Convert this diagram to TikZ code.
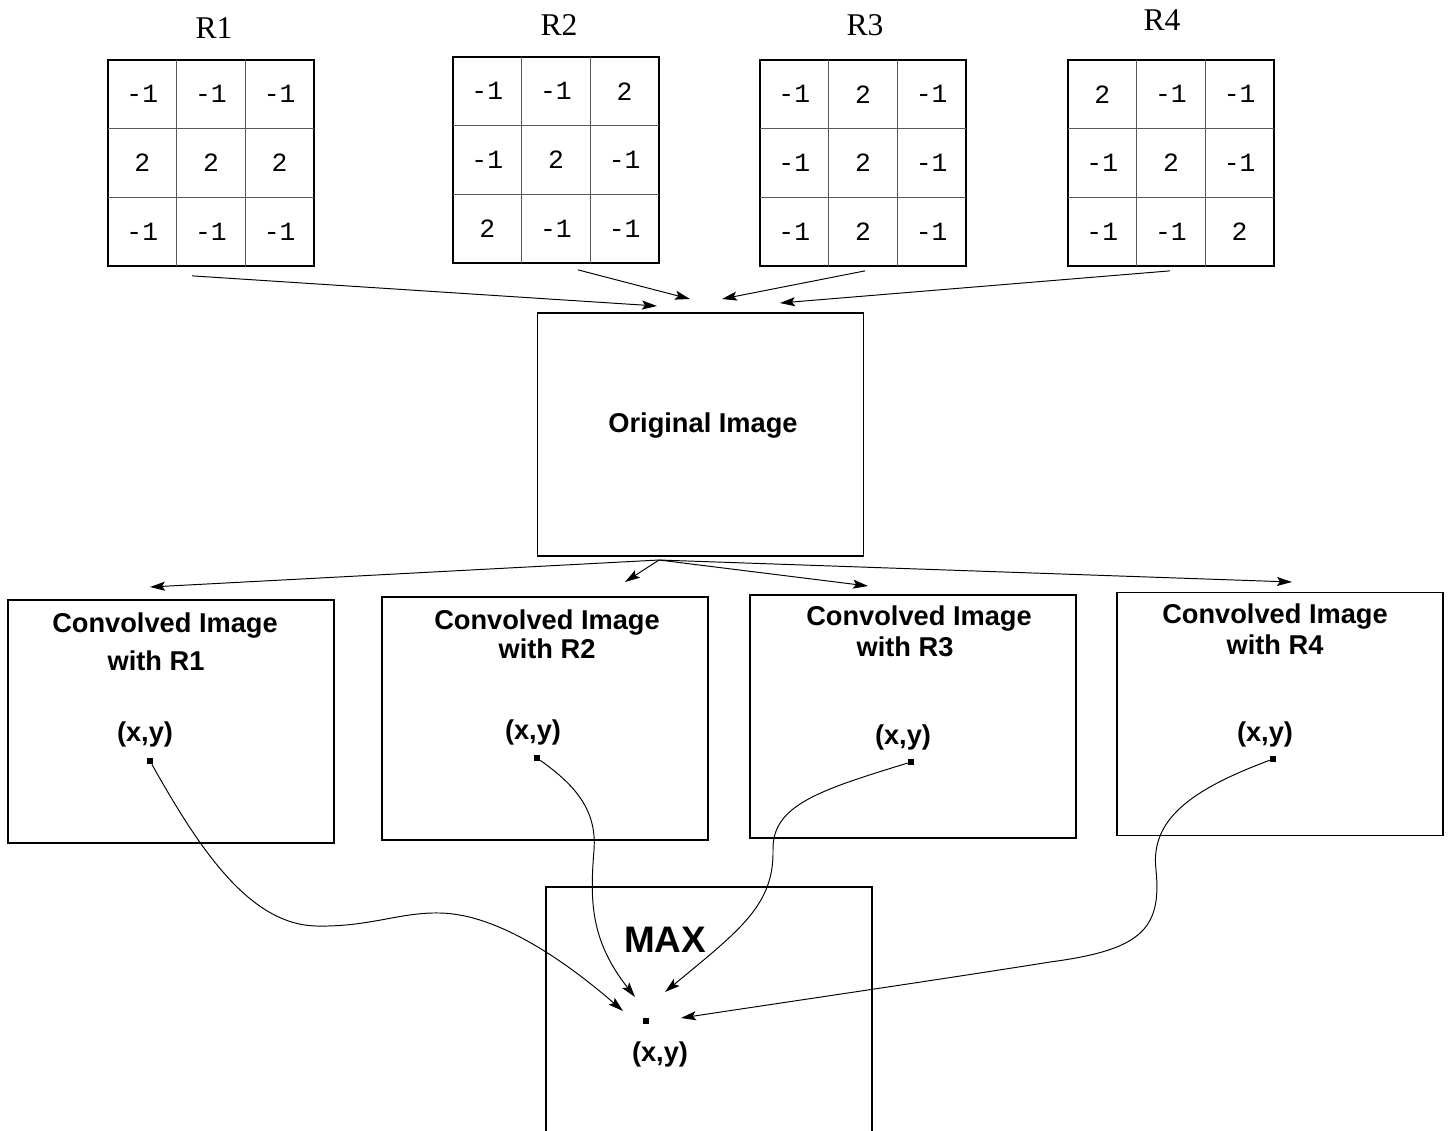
\documentclass[tikz,border=0pt]{standalone}
\usepackage{fontspec}
\setmainfont{Liberation Serif}
\setsansfont{Liberation Sans}
\setmonofont{Liberation Mono}
\usetikzlibrary{arrows.meta}

\begin{document}
\begin{tikzpicture}[x=0.02cm,y=-0.02cm,
  kernel/.style={draw,line width=1pt,minimum size=4.12cm,inner sep=0pt},
  gridline/.style={black!65,line width=0.6pt},
  cell/.style={font=\ttfamily\fontsize{15}{17}\selectfont},
  klabel/.style={font=\fontsize{18}{20}\selectfont},
  box/.style={draw,line width=1pt,minimum width=6.52cm,minimum height=4.86cm,inner sep=0pt},
  lbl/.style={font=\sffamily\bfseries\fontsize{15.5}{17}\selectfont,inner sep=0pt},
  dot/.style={fill,minimum size=0.12cm,inner sep=0pt},
  arr/.style={-{Stealth[length=0.3cm,width=0.18cm,inset=0.06cm]},line width=0.55pt}]
\useasboundingbox (0,0) rectangle (1450,1130);

% the four kernels
\foreach \n/\x/\y/\lx/\ly in {1/108/60/214/28, 2/453/57/559/25, 3/760/60/865/25, 4/1068/60/1162/20}{
  \node[kernel] (k\n) at (\x+103,\y+103) {};
  \node[klabel] (r\n) at (\lx,\ly) {R\n};
  \foreach \t in {1,2}{
    \draw[gridline] (\x+68.67*\t,\y) -- ++(0,206);
    \draw[gridline] (\x,\y+68.67*\t) -- ++(206,0);
  }
}
\foreach \v [count=\i from 0] in {-1,-1,-1,2,2,2,-1,-1,-1}
  \node[cell] (k1-\i) at ({108+34.3+68.67*mod(\i,3)},{60+34.3+68.67*div(\i,3)}) {\v};
\foreach \v [count=\i from 0] in {-1,-1,2,-1,2,-1,2,-1,-1}
  \node[cell] (k2-\i) at ({453+34.3+68.67*mod(\i,3)},{57+34.3+68.67*div(\i,3)}) {\v};
\foreach \v [count=\i from 0] in {-1,2,-1,-1,2,-1,-1,2,-1}
  \node[cell] (k3-\i) at ({760+34.3+68.67*mod(\i,3)},{60+34.3+68.67*div(\i,3)}) {\v};
\foreach \v [count=\i from 0] in {2,-1,-1,-1,2,-1,-1,-1,2}
  \node[cell] (k4-\i) at ({1068+34.3+68.67*mod(\i,3)},{60+34.3+68.67*div(\i,3)}) {\v};

% original image
\node[box] (orig) at (700.5,434.5) {};
\node[lbl] (orig-t) at (703,426) {Original Image};

\coordinate (t1) at (657,306);
\coordinate (t2) at (690,299);
\coordinate (t3) at (722,299);
\coordinate (t4) at (780,303);
\draw[arr] ([shift={(-19,9)}]k1.south) -- (t1);
\draw[arr] ([shift={(22,6)}]k2.south) -- (t2);
\draw[arr] ([shift={(2,4)}]k3.south) -- (t3);
\draw[arr] ([shift={(-1,4)}]k4.south) -- (t4);

% convolved images
\node[box] (conv1) at (171,721.5) {};
\node[box] (conv2) at (545,718.5) {};
\node[box] (conv3) at (913,716.5) {};
\node[box] (conv4) at (1280,714) {};
\node[lbl] (conv1-t) at (165,626) {Convolved Image};
\node[lbl] (conv1-w) at (156,661) {with R1};
\node[lbl] (conv2-t) at (547,623) {Convolved Image};
\node[lbl] (conv2-w) at (547,649) {with R2};
\node[lbl] (conv3-t) at (919,619) {Convolved Image};
\node[lbl] (conv3-w) at (905,647) {with R3};
\node[lbl] (conv4-t) at (1275,617) {Convolved Image};
\node[lbl] (conv4-w) at (1275,645) {with R4};
\node[lbl] (xy1) at (145,734) {(x,y)};
\node[lbl] (xy2) at (533,732) {(x,y)};
\node[lbl] (xy3) at (903,737) {(x,y)};
\node[lbl] (xy4) at (1265,734) {(x,y)};
\node[dot] (d1) at (150,761) {};
\node[dot] (d2) at (537,758) {};
\node[dot] (d3) at (911,762) {};
\node[dot] (d4) at (1273,759) {};

\coordinate (o) at (659,560);
\coordinate (b1) at (150,587);
\coordinate (b2) at (625,582);
\coordinate (b3) at (868,586);
\coordinate (b4) at (1292,582);
\foreach \n in {1,...,4}
  \draw[arr] (o) -- (b\n);

% max
\draw[line width=1pt] (546,1140) -- (546,887) -- (872,887) -- (872,1140);
\node[font=\sffamily\bfseries\fontsize{21}{24}\selectfont,inner sep=0pt] (max) at (665,940) {MAX};
\node[dot] (dm) at (646,1021) {};
\node[lbl] (xym) at (660,1054) {(x,y)};

\coordinate (m1) at (623,1011);
\coordinate (m2) at (635,997);
\coordinate (m3) at (665,992);
\coordinate (m4) at (681,1018);
\draw[arr] (d1) .. controls (200,850) and (250,925) .. (317,926)
  .. controls (370,927) and (400,912) .. (440,913)
  .. controls (500,914) and (570,965) .. (m1);
\draw[arr] (d2) .. controls (575,785) and (597,810) .. (594,850)
  .. controls (590,900) and (590,940) .. (m2);
\draw[arr] (d3) .. controls (820,790) and (772,805) .. (773,850)
  .. controls (774,905) and (740,930) .. (m3);
\draw[arr] (d4) .. controls (1190,790) and (1150,820) .. (1156,870)
  .. controls (1162,930) and (1140,950) .. (1050,962)
  .. controls (950,978) and (800,1000) .. (m4);
\end{tikzpicture}
\end{document}
